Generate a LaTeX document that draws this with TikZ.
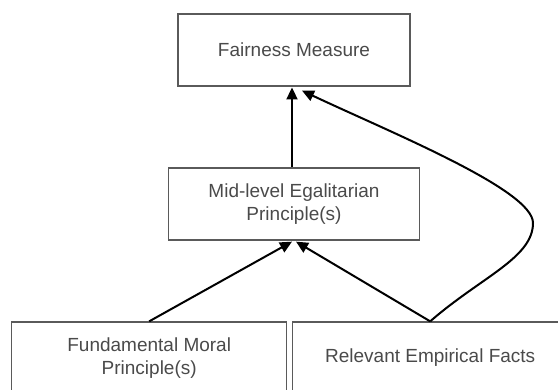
\documentclass[tikz,border=0pt]{standalone}
\usepackage{fontspec}
\setmainfont{Liberation Sans}
\usetikzlibrary{arrows.meta}
\definecolor{boxline}{HTML}{5A5A5A}
\definecolor{txt}{HTML}{4A4A4A}
\tikzset{
  box/.style={draw=boxline, line width=1.3pt, rectangle, minimum height=72pt, align=center,
    text=txt, font=\fontsize{19}{22.3}\selectfont, inner sep=0pt},
  conn/.style={line width=2pt, draw=black, -{Triangle[length=12pt,width=11pt]}}
}
\begin{document}
\begin{tikzpicture}[x=1pt,y=-1pt]
\useasboundingbox (0,0) rectangle (558,390);
\node[box, minimum width=232pt] (fair) at (294,50) {Fairness Measure};
\node[box, minimum width=251pt] (mid) at (294,204) {Mid-level Egalitarian\\Principle(s)};
\node[box, minimum width=275pt] (fund) at (149.2,358) {Fundamental Moral\\Principle(s)};
\node[box, minimum width=275pt] (facts) at (430.2,358) {Relevant Empirical Facts};
\coordinate (peak) at (533,223);
\draw[conn] ([xshift=-2pt]mid.north) -- ([xshift=-2pt,yshift=-0.8pt]fair.south);
\draw[conn] (fund.north) -- ([xshift=-2pt,yshift=-1pt]mid.south);
\draw[conn] (facts.north) -- ([xshift=2pt,yshift=-1pt]mid.south);
\draw[conn] (facts.north) .. controls (481,277) and (533,258) .. (peak)
  .. controls (533,190) and (392,133) .. ([xshift=8pt,yshift=-4pt]fair.south);
\end{tikzpicture}
\end{document}
